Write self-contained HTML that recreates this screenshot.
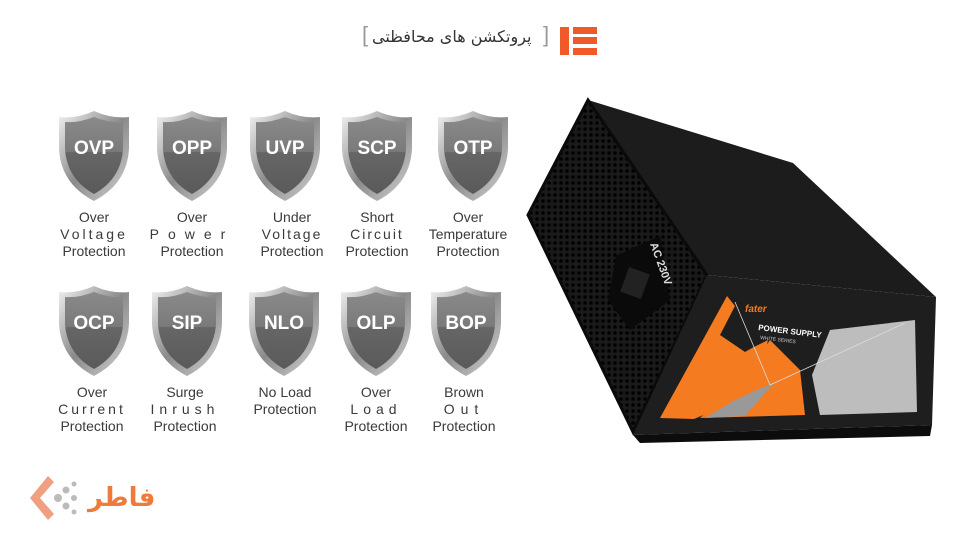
<!DOCTYPE html>
<html><head><meta charset="utf-8"><style>
body{margin:0;width:960px;height:540px;background:#fff;overflow:hidden;position:relative;font-family:"Liberation Sans","Noto Sans CJK SC",sans-serif}
.sh{position:absolute;width:74px;height:94px}
.lb{position:absolute;width:110px;text-align:center;font-size:14px;line-height:17px;color:#3a3a3a}
</style></head><body>
<svg width="0" height="0" style="position:absolute">
<defs>
<linearGradient id="rim" x1="0" y1="0" x2="1" y2="1"><stop offset="0" stop-color="#f2f2f2"/><stop offset=".5" stop-color="#8a8a8a"/><stop offset="1" stop-color="#d5d5d5"/></linearGradient>
<linearGradient id="in" x1="0" y1="0" x2="0" y2="1"><stop offset="0" stop-color="#8a8a8a"/><stop offset=".45" stop-color="#7a7a7a"/><stop offset=".46" stop-color="#666"/><stop offset="1" stop-color="#5a5a5a"/></linearGradient>
<symbol id="shield" viewBox="0 0 74 94"><path d="M37 2 Q55 10 72 8 L72 40 Q70 75 37 92 Q4 75 2 40 L2 8 Q19 10 37 2Z" fill="url(#rim)"/><path d="M37 8 Q52 14 66 13 L66 40 Q64 70 37 85 Q10 70 8 40 L8 13 Q22 14 37 8Z" fill="url(#in)"/></symbol>
</defs></svg>

<div style="position:absolute;left:362px;top:22px;font-size:22px;color:#999;font-weight:100">[</div>
<div style="position:absolute;left:372px;top:27px;font-size:16px;color:#333;font-family:'DejaVu Sans',sans-serif">پروتکشن های محافظتی</div>
<div style="position:absolute;left:543px;top:22px;font-size:22px;color:#999">]</div>
<div style="position:absolute;left:560px;top:27px;width:9px;height:28px;background:#f05a28"></div>
<div style="position:absolute;left:573px;top:27px;width:24px;height:7px;background:#f05a28"></div>
<div style="position:absolute;left:573px;top:37px;width:24px;height:7px;background:#f05a28"></div>
<div style="position:absolute;left:573px;top:48px;width:24px;height:7px;background:#f05a28"></div>

<svg class="sh" style="left:57px;top:109px"><use href="#shield"/><text x="37" y="45" text-anchor="middle" fill="#fff" font-weight="bold" font-size="19" font-family="Liberation Sans">OVP</text></svg>
<svg class="sh" style="left:155px;top:109px"><use href="#shield"/><text x="37" y="45" text-anchor="middle" fill="#fff" font-weight="bold" font-size="19" font-family="Liberation Sans">OPP</text></svg>
<svg class="sh" style="left:248px;top:109px"><use href="#shield"/><text x="37" y="45" text-anchor="middle" fill="#fff" font-weight="bold" font-size="19" font-family="Liberation Sans">UVP</text></svg>
<svg class="sh" style="left:340px;top:109px"><use href="#shield"/><text x="37" y="45" text-anchor="middle" fill="#fff" font-weight="bold" font-size="19" font-family="Liberation Sans">SCP</text></svg>
<svg class="sh" style="left:436px;top:109px"><use href="#shield"/><text x="37" y="45" text-anchor="middle" fill="#fff" font-weight="bold" font-size="19" font-family="Liberation Sans">OTP</text></svg>
<div class="lb" style="left:39px;top:209px">Over<br><span style="letter-spacing:3px">Voltage</span><br>Protection</div>
<div class="lb" style="left:137px;top:209px">Over<br><span style="letter-spacing:9px">Power</span><br>Protection</div>
<div class="lb" style="left:237px;top:209px">Under<br><span style="letter-spacing:2px">Voltage</span><br>Protection</div>
<div class="lb" style="left:322px;top:209px">Short<br><span style="letter-spacing:2px">Circuit</span><br>Protection</div>
<div class="lb" style="left:413px;top:209px">Over<br>Temperature<br>Protection</div>

<svg class="sh" style="left:57px;top:284px"><use href="#shield"/><text x="37" y="45" text-anchor="middle" fill="#fff" font-weight="bold" font-size="19" font-family="Liberation Sans">OCP</text></svg>
<svg class="sh" style="left:150px;top:284px"><use href="#shield"/><text x="37" y="45" text-anchor="middle" fill="#fff" font-weight="bold" font-size="19" font-family="Liberation Sans">SIP</text></svg>
<svg class="sh" style="left:247px;top:284px"><use href="#shield"/><text x="37" y="45" text-anchor="middle" fill="#fff" font-weight="bold" font-size="19" font-family="Liberation Sans">NLO</text></svg>
<svg class="sh" style="left:339px;top:284px"><use href="#shield"/><text x="37" y="45" text-anchor="middle" fill="#fff" font-weight="bold" font-size="19" font-family="Liberation Sans">OLP</text></svg>
<svg class="sh" style="left:429px;top:284px"><use href="#shield"/><text x="37" y="45" text-anchor="middle" fill="#fff" font-weight="bold" font-size="19" font-family="Liberation Sans">BOP</text></svg>
<div class="lb" style="left:37px;top:384px">Over<br><span style="letter-spacing:3px">Current</span><br>Protection</div>
<div class="lb" style="left:130px;top:384px">Surge<br><span style="letter-spacing:5px">Inrush</span><br>Protection</div>
<div class="lb" style="left:230px;top:384px">No Load<br>Protection</div>
<div class="lb" style="left:321px;top:384px">Over<br><span style="letter-spacing:5px">Load</span><br>Protection</div>
<div class="lb" style="left:409px;top:384px">Brown<br><span style="letter-spacing:6px">Out</span><br>Protection</div>

<svg style="position:absolute;left:0;top:0" width="960" height="540">
<defs><pattern id="holes" width="6" height="6" patternUnits="userSpaceOnUse"><rect width="6" height="6" fill="#1a1a1a"/><circle cx="3" cy="3" r="1.8" fill="#000"/></pattern></defs>
<polygon points="588,100 793,163 936,297 707,275" fill="#1c1c1c"/>
<polygon points="588,100 707,275 633,432 528,215" fill="url(#holes)"/>
<polygon points="588,100 707,275 633,432 528,215" fill="none" stroke="#0a0a0a" stroke-width="3"/>
<polygon points="707,275 936,297 932,425 633,435" fill="#1e1e1e"/>
<polygon points="633,435 932,425 930,436 640,443" fill="#0c0c0c"/>
<polygon points="616,256 660,236 670,300 630,330 608,300" fill="#0a0a0a"/>
<rect x="624" y="270" width="22" height="26" fill="#222" transform="rotate(20 635 283)"/>
<polygon points="727,296 735,306 720,335 745,352 752,348 768,340 756,390 734,402 694,419 660,418" fill="#f47b20"/>
<polygon points="742,380 770,340 800,370 805,415 700,418" fill="#f47b20"/>
<polygon points="812,375 830,330 915,320 917,412 820,415" fill="#bdbdbd"/>
<polygon points="735,400 775,382 745,416 705,418" fill="#999"/>
<polyline points="735,302 770,385 905,323" fill="none" stroke="#ddd" stroke-width="0.8"/>
<text x="745" y="312" fill="#f47b20" font-size="10" font-weight="bold" font-style="italic" font-family="Liberation Sans">fater</text>
<text x="758" y="330" fill="#fff" font-size="8" font-weight="bold" font-family="Liberation Sans" transform="rotate(7 758 330)">POWER SUPPLY</text>
<text x="760" y="339" fill="#ccc" font-size="5" font-family="Liberation Sans" transform="rotate(7 760 339)">WHITE SERIES</text>
<text x="650" y="244" fill="#ddd" font-size="11" font-weight="bold" font-family="Liberation Sans" transform="rotate(70 650 244)">AC 230V</text>
</svg>

<svg style="position:absolute;left:28px;top:474px" width="140" height="50">
<polygon points="20,2 2,24 20,46 26,40 12,24 26,8" fill="#f0a080"/>
<g fill="#bbb"><circle cx="30" cy="24" r="4"/><circle cx="38" cy="16" r="3.5"/><circle cx="38" cy="32" r="3.5"/><circle cx="46" cy="24" r="3"/><circle cx="46" cy="10" r="2.5"/><circle cx="46" cy="38" r="2.5"/></g>
<text x="60" y="32" fill="#f07a3a" font-size="26" font-weight="bold" font-family="DejaVu Sans,sans-serif">فاطر</text>
</svg>
</body></html>
